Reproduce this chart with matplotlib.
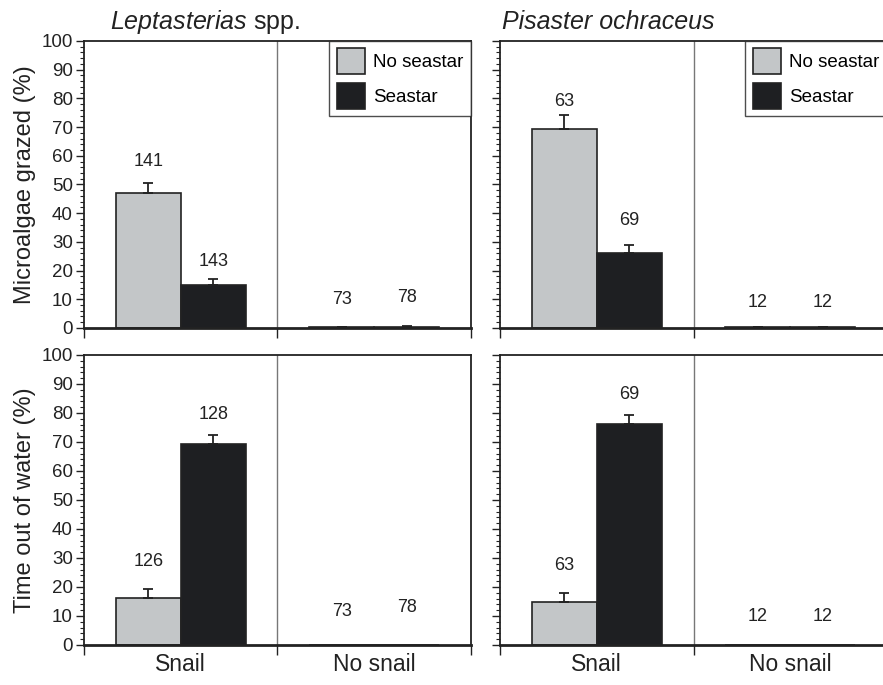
import matplotlib.pyplot as plt
from matplotlib.ticker import MultipleLocator, FixedLocator, NullFormatter, FixedFormatter
import numpy as np

plt.rcParams['font.family'] = ['Liberation Sans', 'DejaVu Sans']
plt.rcParams['mathtext.fontset'] = 'custom'
plt.rcParams['mathtext.rm'] = 'Liberation Sans'
plt.rcParams['mathtext.it'] = 'Liberation Sans:italic'

# grazing trial: Leptasterias vs Pisaster, snail present / absent
groups = ['Snail', 'No snail']
treatments = ['No seastar', 'Seastar']

grazed_lept_none = [47.1, 0.2]
grazed_lept_none_err = [3.3, 0.1]
grazed_lept_star = [15.0, 0.5]
grazed_lept_star_err = [2.0, 0.3]
grazed_lept_n = [[141, 73], [143, 78]]

grazed_pis_none = [69.3, 0.2]
grazed_pis_none_err = [5.0, 0.1]
grazed_pis_star = [26.0, 0.2]
grazed_pis_star_err = [3.0, 0.1]
grazed_pis_n = [[63, 12], [69, 12]]

out_lept_none = [16.3, 0.0]
out_lept_none_err = [3.0, 0.0]
out_lept_star = [69.2, 0.0]
out_lept_star_err = [3.2, 0.0]
out_lept_n = [[126, 73], [128, 78]]

out_pis_none = [14.9, 0.0]
out_pis_none_err = [3.1, 0.0]
out_pis_star = [76.1, 0.0]
out_pis_star_err = [3.2, 0.0]
out_pis_n = [[63, 12], [69, 12]]

# heights of the sample-size labels, same layout as the n lists
grazed_lept_label_y = [[58, 9.8], [23.1, 10.7]]
grazed_pis_label_y = [[78.9, 9.0], [37.6, 9.0]]
out_lept_label_y = [[28.7, 11.4], [79.5, 12.8]]
out_pis_label_y = [[27.3, 9.7], [86.2, 9.7]]

GRAY = '#c3c6c8'
BLACK = '#1e1f22'
INK = '#222222'
W = 0.335

fig = plt.figure(figsize=(8.83, 6.85), dpi=100)
ax_tl = fig.add_axes([0.0951, 0.5212, 0.4383, 0.4190])
ax_tr = fig.add_axes([0.5663, 0.5212, 0.4383, 0.4190])
ax_bl = fig.add_axes([0.0951, 0.0584, 0.4383, 0.4234])
ax_br = fig.add_axes([0.5663, 0.0584, 0.4383, 0.4234])


def panel(ax, none, none_err, star, star_err, n, label_y, ylabels, xlabels, legend):
    x = np.arange(len(groups)) + 0.5
    for k, (vals, errs, col) in enumerate([(none, none_err, GRAY), (star, star_err, BLACK)]):
        xs = x + (k - 0.5) * W
        ax.bar(xs, vals, W, color=col, edgecolor=INK, linewidth=1.2,
               label=treatments[k], zorder=2)
        for xi, v, e in zip(xs, vals, errs):
            if e > 0:
                ax.errorbar(xi, v, yerr=[[0], [e]], fmt='none', ecolor=INK,
                            elinewidth=1.3, capsize=3.3, capthick=1.3, zorder=3)
        for xi, nn, ly in zip(xs, n[k], label_y[k]):
            ax.text(xi, ly, str(nn), ha='center', va='center', fontsize=13, color=INK)
    ax.axvline(1, color='#777777', lw=1.0, zorder=1)
    ax.set_xlim(0, 2)
    ax.set_ylim(0, 100)
    ax.xaxis.set_major_locator(FixedLocator([0, 1, 2]))
    ax.xaxis.set_major_formatter(NullFormatter())
    ax.xaxis.set_minor_locator(FixedLocator(x))
    if xlabels:
        ax.xaxis.set_minor_formatter(FixedFormatter(groups))
    else:
        ax.xaxis.set_minor_formatter(NullFormatter())
    ax.tick_params(axis='x', which='major', direction='out', length=7, width=1.0, color=INK)
    ax.tick_params(axis='x', which='minor', length=0, pad=6, labelsize=16.5, labelcolor=INK)
    ax.yaxis.set_major_locator(MultipleLocator(10))
    ax.yaxis.set_minor_locator(MultipleLocator(2))
    ax.tick_params(axis='y', which='major', direction='out', length=6, width=1.0,
                   color=INK, labelsize=13.5, labelcolor=INK, pad=2)
    ax.tick_params(axis='y', which='minor', direction='out', length=3, width=0.8, color=INK)
    if not ylabels:
        ax.yaxis.set_major_formatter(NullFormatter())
    for side in ['top', 'right', 'left']:
        ax.spines[side].set_linewidth(1.3)
        ax.spines[side].set_color(INK)
    ax.spines['bottom'].set_linewidth(2.0)
    ax.spines['bottom'].set_color(INK)
    if legend:
        leg = ax.legend(loc='upper right', borderaxespad=0, fontsize=13.5, frameon=True,
                        fancybox=False, handlelength=1.5, handleheight=1.75,
                        handletextpad=0.45, labelspacing=0.45, borderpad=0.4)
        leg.get_frame().set_edgecolor(INK)
        leg.get_frame().set_linewidth(1.0)


panel(ax_tl, grazed_lept_none, grazed_lept_none_err, grazed_lept_star, grazed_lept_star_err,
      grazed_lept_n, grazed_lept_label_y, True, False, True)
panel(ax_tr, grazed_pis_none, grazed_pis_none_err, grazed_pis_star, grazed_pis_star_err,
      grazed_pis_n, grazed_pis_label_y, False, False, True)
panel(ax_bl, out_lept_none, out_lept_none_err, out_lept_star, out_lept_star_err,
      out_lept_n, out_lept_label_y, True, True, False)
panel(ax_br, out_pis_none, out_pis_none_err, out_pis_star, out_pis_star_err,
      out_pis_n, out_pis_label_y, False, True, False)

ax_tl.set_ylabel('Microalgae grazed (%)', fontsize=17, color=INK, labelpad=4)
ax_bl.set_ylabel('Time out of water (%)', fontsize=17, color=INK, labelpad=4)

fig.text(110 / 883, 1 - 29 / 685, '$\\it{Leptasterias}$ spp.', fontsize=18, color=INK,
         ha='left', va='baseline')
fig.text(502 / 883, 1 - 29 / 685, 'Pisaster ochraceus', fontsize=18, style='italic',
         color=INK, ha='left', va='baseline')

fig.savefig('out.png', dpi=100)
